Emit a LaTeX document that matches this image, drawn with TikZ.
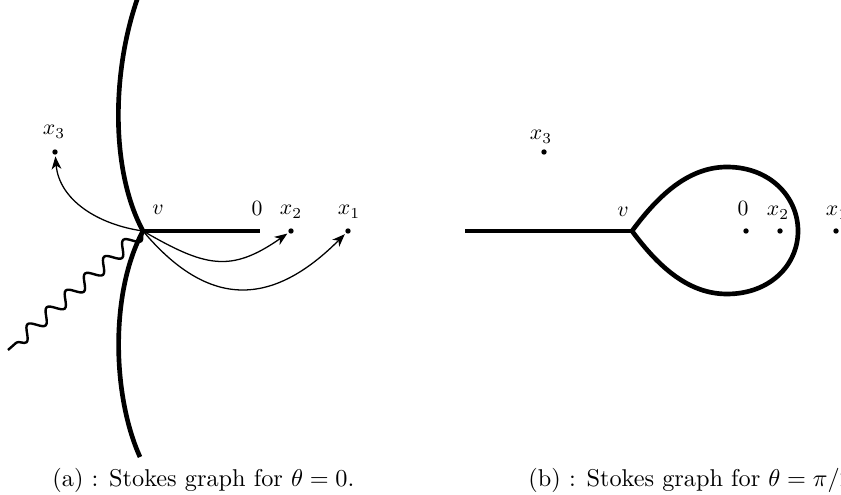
\documentclass[tikz,border=0pt]{standalone}
\usetikzlibrary{arrows.meta,decorations.pathmorphing}
\begin{document}
\begin{tikzpicture}[x=0.6667pt,y=-0.6667pt,
  thickline/.style={line width=3.1pt},
  dotpt/.style={circle,fill,inner sep=0pt,minimum size=3.6pt},
  lbl/.style={inner sep=0pt,anchor=base,scale=1.45},
  captext/.style={inner sep=0pt,anchor=base west,scale=1.62},
  arr/.style={line width=0.85pt,-{Stealth[length=8.5pt,width=6.5pt,inset=2.5pt]},shorten >=1pt},
  wavy/.style={line width=1.6pt,decorate,decoration={snake,segment length=17pt,amplitude=4.3pt}}]
\useasboundingbox (0,0) rectangle (841,495);
% ---------- panel (a) ----------
\coordinate (va) at (143,231);
\coordinate (topa) at (138,-3);
\coordinate (bota) at (140,457);
\coordinate (zeroa) at (260,231);
\coordinate (wend) at (8,350);
\node[dotpt] (x3a) at (55,152) {};
\node[dotpt] (x2a) at (291,231) {};
\node[dotpt] (x1a) at (348,231) {};
\draw[thickline] (topa) .. controls (112,70) and (110,170) .. (va);
\draw[thickline] (va) .. controls (110,292) and (112,395) .. (bota);
\draw[thickline] (va) -- (zeroa);
\draw[wavy] (va) -- (wend);
\draw[arr] (va) to[out=172,in=-85] (x3a);
\draw[arr] (va) to[out=-30,in=-145,looseness=1.25] (x2a);
\draw[arr] (va) to[out=-50,in=-135,looseness=1.3] (x1a);
\node[lbl] (lva) at (158,215) {$v$};
\node[lbl] (l0a) at (257,216) {$0$};
\node[lbl] (lx2a) at (291,215) {$x_2$};
\node[lbl] (lx1a) at (349,215) {$x_1$};
\node[lbl] (lx3a) at (54,135) {$x_3$};
% ---------- panel (b) ----------
\coordinate (vb) at (632,231);
\coordinate (lb) at (465,231);
\node[dotpt] (x3b) at (544,152) {};
\node[dotpt] (zb) at (746,231) {};
\node[dotpt] (x2b) at (780,231) {};
\node[dotpt] (x1b) at (836,231) {};
\draw[thickline] (lb) -- (vb);
\draw[thickline] (vb) .. controls (660,193) and (690,167) .. (727,167)
  .. controls (770,167) and (798,197) .. (798,231)
  .. controls (798,265) and (770,294) .. (727,294)
  .. controls (690,294) and (660,269) .. (vb) -- cycle;
\node[lbl] (lvb) at (623,217) {$v$};
\node[lbl] (l0b) at (743,216) {$0$};
\node[lbl] (lx2b) at (778,216) {$x_2$};
\node[lbl] (lx1b) at (837,216) {$x_1$};
\node[lbl] (lx3b) at (541,140) {$x_3$};
% ---------- captions ----------
\node[captext] (capa) at (52,486) {(a) : Stokes graph for $\theta = 0$.};
\node[captext] (capb) at (528,486) {(b) : Stokes graph for $\theta = \pi/2$.};
\end{tikzpicture}
\end{document}
